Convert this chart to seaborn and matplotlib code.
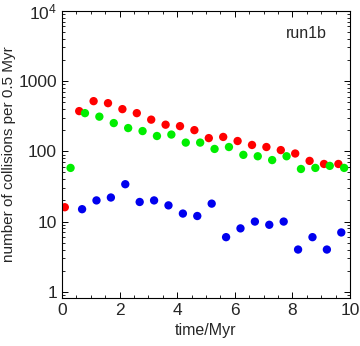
import numpy as np
import seaborn as sns
import matplotlib.pyplot as plt
import pandas as pd
from matplotlib.ticker import MultipleLocator, LogLocator, FixedLocator, NullFormatter

# collisions per 0.5 Myr bin
red_t = [0.1, 0.6, 1.1, 1.6, 2.1, 2.6, 3.1, 3.6, 4.1, 4.6,
         5.1, 5.6, 6.1, 6.6, 7.1, 7.6, 8.1, 8.6, 9.1, 9.6]
red_n = [16, 373, 517, 484, 398, 349, 282, 239, 228, 200,
         154, 160, 140, 123, 115, 104, 93, 73, 66, 66]

green_t = [0.3, 0.8, 1.3, 1.8, 2.3, 2.8, 3.3, 3.8, 4.3, 4.8,
           5.3, 5.8, 6.3, 6.8, 7.3, 7.8, 8.3, 8.8, 9.3, 9.8]
green_n = [58, 349, 311, 252, 214, 194, 165, 173, 133, 133,
           108, 115, 89, 85, 75, 85, 56, 58, 62, 58]

blue_t = [0.7, 1.2, 1.7, 2.2, 2.7, 3.2, 3.7, 4.2, 4.7, 5.2,
          5.7, 6.2, 6.7, 7.2, 7.7, 8.2, 8.7, 9.2, 9.7]
blue_n = [15, 20, 22, 34, 19, 20, 17, 13, 12, 18,
          6, 8, 10, 9, 10, 4, 6, 4, 7]

df = pd.concat([
    pd.DataFrame({"t": red_t, "n": red_n, "s": "red"}),
    pd.DataFrame({"t": green_t, "n": green_n, "s": "green"}),
    pd.DataFrame({"t": blue_t, "n": blue_n, "s": "blue"}),
])

sns.set_style("white")
plt.rcParams['font.family'] = ['Liberation Sans', 'DejaVu Sans']
plt.rcParams['mathtext.fontset'] = 'custom'
plt.rcParams['mathtext.rm'] = 'Liberation Sans'

fig = plt.figure(figsize=(3.6, 3.46), dpi=100)
ax = fig.add_axes([0.172, 0.139, 0.800, 0.830])
sns.scatterplot(data=df, x="t", y="n", hue="s",
                palette={"red": "#ff0000", "green": "#00ee00", "blue": "#0000ee"},
                s=36, edgecolor="none", legend=False, ax=ax)

ax.set_yscale("log")
ax.set_xlim(0, 10)
ax.set_ylim(0.82, 1e4)
ax.yaxis.set_major_locator(FixedLocator([1, 10, 100, 1000, 10000]))
ax.set_yticklabels(["1", "10", "100", "1000", r"$\mathrm{10^4}$"])
ax.yaxis.set_minor_locator(LogLocator(base=10, subs=np.arange(2, 10)))
ax.yaxis.set_minor_formatter(NullFormatter())
ax.xaxis.set_major_locator(MultipleLocator(2))
ax.xaxis.set_minor_locator(MultipleLocator(0.5))

for sp in ax.spines.values():
    sp.set_color("black")
    sp.set_linewidth(0.8)
ax.tick_params(which="both", direction="in", top=True, right=True,
               left=True, bottom=True, labelsize=12.5, color="black")
ax.tick_params(which="major", length=4, width=0.7)
ax.tick_params(which="minor", length=2, width=0.6)

ax.set_xlabel("time/Myr", fontsize=11.5)
ax.set_ylabel("number of collisions per 0.5 Myr", fontsize=11)
ax.yaxis.set_label_coords(-0.158, 0.5)
ax.text(0.85, 0.92, "run1b", transform=ax.transAxes, fontsize=11.5, ha="center", va="center")

fig.savefig("out.png", dpi=100)
